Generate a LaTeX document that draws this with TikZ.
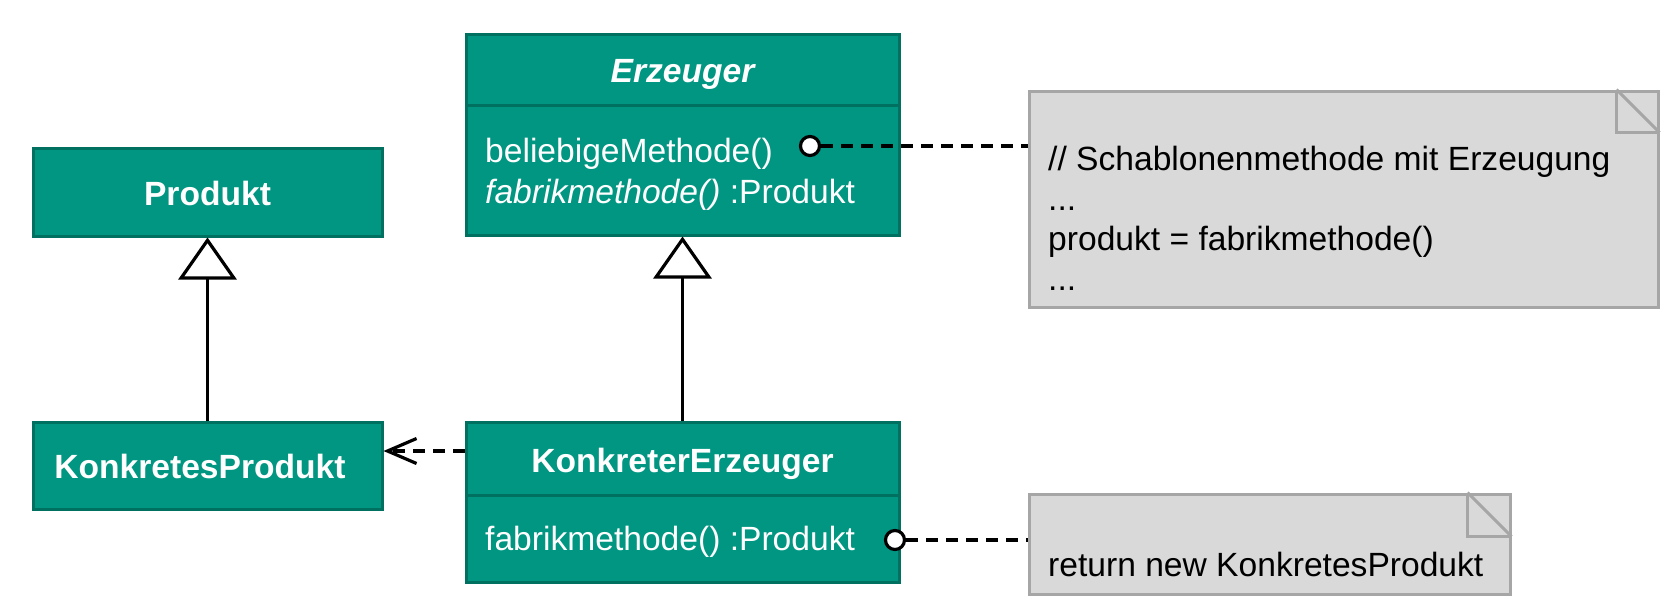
\documentclass[tikz,border=0pt]{standalone}
\usepackage{fontspec}
\setmainfont{Liberation Sans}
\usetikzlibrary{arrows.meta}
\definecolor{umlfill}{RGB}{0,150,130}
\definecolor{umlborder}{RGB}{0,112,97}
\definecolor{notefill}{RGB}{217,217,217}
\definecolor{noteborder}{RGB}{166,166,166}
\begin{document}
\begin{tikzpicture}[x=1pt,y=-1pt,
  txtfont/.style={font=\fontsize{33.6}{40}\selectfont},
  umlbox/.style={draw=umlborder, fill=umlfill, line width=3pt, inner sep=0pt, rectangle},
  notebox/.style={draw=noteborder, fill=notefill, line width=3pt, inner sep=0pt, rectangle},
  noteline/.style={draw=noteborder, line width=3pt},
  titletxt/.style={txtfont, text=white, inner sep=0pt, anchor=base, font=\fontsize{33.6}{40}\selectfont\bfseries},
  optxt/.style={txtfont, text=white, inner sep=0pt, anchor=base west},
  notetxt/.style={txtfont, text=black, inner sep=0pt, anchor=base west},
  conn/.style={line width=3.2pt, draw=black},
  dashconn/.style={conn, dash pattern=on 12pt off 8pt},
  inherit/.style={conn, -{Triangle[fill=white,length=42pt,width=58pt]}},
  knob/.style={circle, draw=black, fill=white, line width=3.2pt, inner sep=0pt, minimum size=19pt},
  depend/.style={dashconn, -{Straight Barb[length=29pt,width=25pt]}}
]
\useasboundingbox (0,0) rectangle (1668,605);

% Produkt
\node[umlbox, minimum width=349pt, minimum height=88pt] (p) at (207.5,192) {};
\node[titletxt] (pt) at (207.5,205) {Produkt};

% Erzeuger
\node[umlbox, minimum width=433pt, minimum height=71pt] (eh) at (682.5,69.5) {};
\node[umlbox, minimum width=433pt, minimum height=130pt] (eb) at (682.5,170) {};
\node[titletxt, font=\fontsize{33.6}{40}\selectfont\bfseries\itshape] (et) at (682.5,82) {Erzeuger};
\node[optxt] (eo1) at (485,162) {beliebigeMethode()};
\node[optxt] (eo2) at (485,203) {\textit{fabrikmethode()} :Produkt};

% KonkretesProdukt
\node[umlbox, minimum width=349pt, minimum height=87pt] (kp) at (207.5,465.5) {};
\node[titletxt] (kpt) at (200,478) {KonkretesProdukt};

% KonkreterErzeuger
\node[umlbox, minimum width=433pt, minimum height=73pt] (keh) at (682.5,458.5) {};
\node[umlbox, minimum width=433pt, minimum height=87pt] (keb) at (682.5,538.5) {};
\node[titletxt] (ket) at (682.5,472) {KonkreterErzeuger};
\node[optxt] (keo) at (485,550) {fabrikmethode() :Produkt};

% Note 1
\node[notebox, minimum width=629pt, minimum height=216pt] (n1) at (1343.5,199) {};
\draw[noteline] ([xshift=-43pt]n1.north east) -- ([xshift=-43pt,yshift=-43pt]n1.north east) -- ([yshift=-43pt]n1.north east);
\draw[noteline] ([xshift=-43pt]n1.north east) -- ([yshift=-43pt]n1.north east);
\node[notetxt] (n1a) at (1048,170) {// Schablonenmethode mit Erzeugung};
\node[notetxt] (n1b) at (1048,210) {...};
\node[notetxt] (n1c) at (1048,250) {produkt = fabrikmethode()};
\node[notetxt] (n1d) at (1048,290) {...};

% Note 2
\node[notebox, minimum width=481pt, minimum height=100pt] (n2) at (1269.5,544) {};
\draw[noteline] ([xshift=-44pt]n2.north east) -- ([xshift=-44pt,yshift=-44pt]n2.north east) -- ([yshift=-44pt]n2.north east);
\draw[noteline] ([xshift=-44pt]n2.north east) -- ([yshift=-44pt]n2.north east);
\node[notetxt] (n2a) at (1048,576) {return new KonkretesProdukt};

% Connectors
\draw[inherit] (kp.north) -- (p.south);
\draw[inherit] (keh.north) -- (eb.south);
\draw[depend] ([yshift=7.5pt]keh.west) -- ([yshift=7.5pt]keh.west -| kp.east);
\node[knob] (o1) at (810,146) {};
\draw[dashconn] (o1.east) -- (o1 -| n1.west);
\node[knob] (o2) at (895,540) {};
\draw[dashconn] (o2.east) -- (o2 -| n2.west);
\end{tikzpicture}
\end{document}
